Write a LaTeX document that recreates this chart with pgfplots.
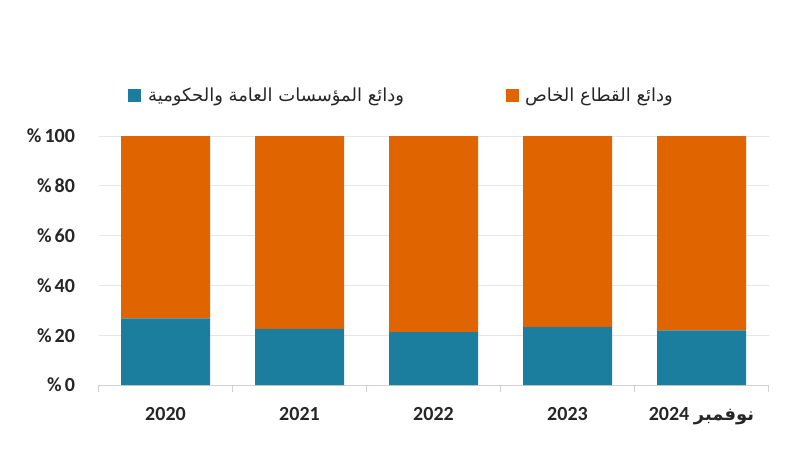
\documentclass[border=0pt]{standalone}
\usepackage{fontspec}
\usepackage{pgfplots}
\pgfplotsset{compat=1.18}
\setmainfont{Carlito}
\newfontfamily\arabicfont[Script=Arabic]{DejaVu Sans}
\TeXXeTstate=1
\definecolor{privorange}{HTML}{E06500}
\definecolor{pubblue}{HTML}{1B7E9E}
\definecolor{gridgray}{HTML}{E6E6E6}
\definecolor{axisgray}{HTML}{D0D0D0}
\definecolor{txt}{HTML}{262626}

\begin{document}
\begin{tikzpicture}
\begin{axis}[
  width=670pt, height=249pt,
  scale only axis,
  ybar stacked,
  bar width=89pt,
  xmin=-0.5, xmax=4.5,
  ymin=0, ymax=100,
  ytick={0,20,40,60,80,100},
  xtick={0,1,2,3,4},
  xticklabels={2020,2021,2022,2023,{\beginR{\arabicfont\bfseries\fontsize{18}{22}\selectfont نوفمبر} \beginL 2024\endL\endR}},
  minor xtick={-0.5,0.5,1.5,2.5,3.5,4.5},
  major tick length=0pt,
  minor tick length=7pt,
  tick align=outside,
  minor tick style={axisgray, line width=0.8pt},
  ymajorgrids,
  grid style={gridgray, line width=0.8pt},
  axis x line*=bottom,
  axis y line*=left,
  y axis line style={draw=none},
  x axis line style={axisgray, line width=0.8pt, -},
  /pgf/number format/assume math mode=true,
  yticklabel={\%\hspace{3pt}\pgfmathprintnumber{\tick}},
  yticklabel style={font=\fontsize{20}{24}\selectfont\bfseries, text=txt, anchor=east, xshift=-20pt},
  xticklabel style={font=\fontsize{20}{24}\selectfont\bfseries, text=txt, yshift=-19pt},
  legend columns=2,
  legend style={at={(axis description cs:0.044,1.125)}, anchor=south west,
    draw=none, fill=none, inner sep=0pt,
    font=\fontsize{18}{22}\selectfont, text=txt,
    /tikz/every even column/.append style={column sep=100pt}},
  legend image code/.code={\fill[#1] (0pt,-6.5pt) rectangle (13pt,6.5pt);},
  clip=false,
]
\addplot[fill=pubblue, draw=none] coordinates {(0,26.8) (1,22.5) (2,21.2) (3,23.2) (4,21.9)};
\addlegendentry{\hspace{5pt}\arabicfont\beginR ودائع المؤسسات العامة والحكومية\endR}
\addplot[fill=privorange, draw=none] coordinates {(0,73.2) (1,77.5) (2,78.8) (3,76.8) (4,78.1)};
\addlegendentry{\hspace{4pt}\arabicfont\beginR ودائع القطاع الخاص\endR}
\coordinate (o) at (rel axis cs:0,0);
\end{axis}
\path (o) ++(-98.5pt,-74pt) rectangle ++(800pt,459pt);
\end{tikzpicture}
\end{document}
